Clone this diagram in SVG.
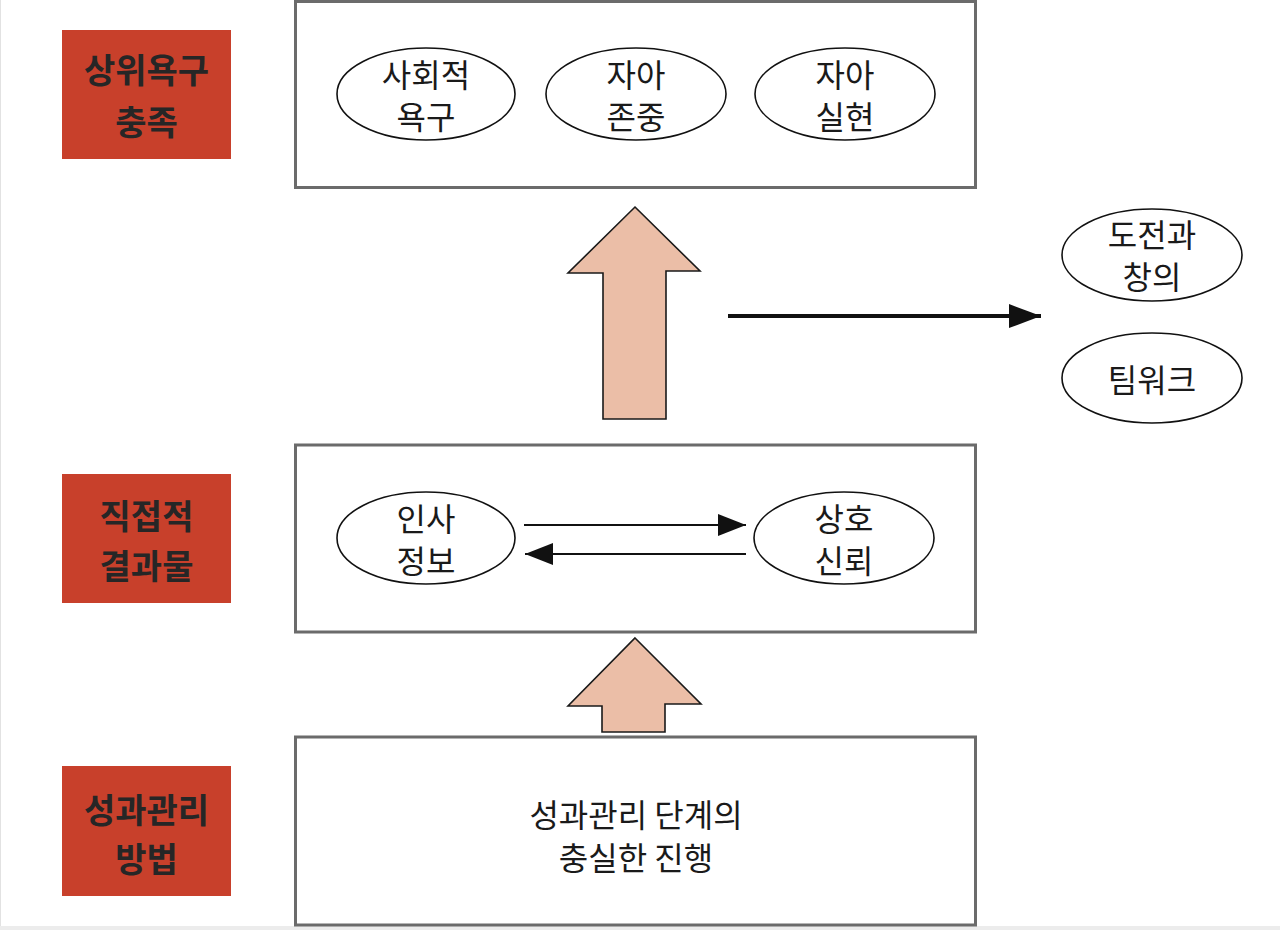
<svg xmlns="http://www.w3.org/2000/svg" width="1280" height="930" viewBox="0 0 1280 930">
<defs>
<style>
.lab{fill:#c8402b;}
.labt{font-family:"Noto Sans CJK KR","Noto Sans",sans-serif;font-size:34px;font-weight:bold;fill:#262626;text-anchor:middle;dominant-baseline:central;}
.box{fill:#fff;stroke:#6b6b6b;stroke-width:3;}
.ell{fill:#fff;stroke:#111;stroke-width:1.6;}
.t{font-family:"Noto Sans CJK KR","Noto Sans",sans-serif;font-size:32px;fill:#1a1a1a;text-anchor:middle;dominant-baseline:central;}
.big{fill:#ebbea7;stroke:#1a1a1a;stroke-width:1.6;stroke-linejoin:miter;}
.thin{stroke:#111;stroke-width:2;fill:none;}
.thick{stroke:#111;stroke-width:4;fill:none;}
</style>
<marker id="ah" viewBox="0 0 10 10" refX="10" refY="5" markerWidth="28" markerHeight="22" markerUnits="userSpaceOnUse" orient="auto" preserveAspectRatio="none">
<path d="M0,0 L10,5 L0,10 z" fill="#111"/>
</marker>
<marker id="ahb" viewBox="0 0 10 10" refX="10" refY="5" markerWidth="32" markerHeight="24" markerUnits="userSpaceOnUse" orient="auto" preserveAspectRatio="none">
<path d="M0,0 L10,5 L0,10 z" fill="#111"/>
</marker>
</defs>
<rect width="1280" height="930" fill="#fff"/>
<rect x="0" y="926" width="1280" height="4" fill="#ececec"/>
<line x1="0.5" y1="0" x2="0.5" y2="926" stroke="#e2e2e2" stroke-width="1"/>

<g id="label-top">
<rect class="lab" x="62" y="30" width="169" height="129"/>
<text class="labt" x="146.5" y="68">상위욕구</text>
<text class="labt" x="146.5" y="120">충족</text>
</g>
<g id="label-mid">
<rect class="lab" x="62" y="474" width="169" height="129"/>
<text class="labt" x="146.5" y="514">직접적</text>
<text class="labt" x="146.5" y="564">결과물</text>
</g>
<g id="label-bot">
<rect class="lab" x="62" y="766" width="169" height="130"/>
<text class="labt" x="146.5" y="808">성과관리</text>
<text class="labt" x="146.5" y="857">방법</text>
</g>

<g id="box-top">
<rect class="box" x="295.5" y="1.5" width="680" height="186"/>
</g>
<g id="box-mid">
<rect class="box" x="295.5" y="445" width="680" height="187"/>
</g>
<g id="box-bot">
<rect class="box" x="295.5" y="737" width="680" height="188"/>
<text class="t" x="636" y="813">성과관리 단계의</text>
<text class="t" x="636" y="856">충실한 진행</text>
</g>

<g id="node-social">
<ellipse class="ell" cx="426" cy="94" rx="89" ry="46"/>
<text class="t" x="426" y="73">사회적</text>
<text class="t" x="426" y="115">욕구</text>
</g>
<g id="node-esteem">
<ellipse class="ell" cx="636" cy="94" rx="90" ry="46"/>
<text class="t" x="636" y="73">자아</text>
<text class="t" x="636" y="115">존중</text>
</g>
<g id="node-actual">
<ellipse class="ell" cx="845" cy="94" rx="90" ry="46"/>
<text class="t" x="845" y="73">자아</text>
<text class="t" x="845" y="115">실현</text>
</g>
<g id="node-challenge">
<ellipse class="ell" cx="1152" cy="255" rx="90" ry="46"/>
<text class="t" x="1152" y="233">도전과</text>
<text class="t" x="1152" y="275">창의</text>
</g>
<g id="node-teamwork">
<ellipse class="ell" cx="1152" cy="378" rx="90" ry="45"/>
<text class="t" x="1152" y="378">팀워크</text>
</g>
<g id="node-hrinfo">
<ellipse class="ell" cx="426" cy="538" rx="89" ry="46"/>
<text class="t" x="426" y="517">인사</text>
<text class="t" x="426" y="559">정보</text>
</g>
<g id="node-trust">
<ellipse class="ell" cx="844" cy="538" rx="90" ry="46"/>
<text class="t" x="844" y="517">상호</text>
<text class="t" x="844" y="559">신뢰</text>
</g>

<g id="connectors">
<polygon class="big" points="635,207 700,271 666,271 666,419 603,419 603,273 568,273"/>
<polygon class="big" points="635,638 701,704 665,704 665,732 602,732 602,706 568,706"/>
<line class="thick" x1="728" y1="316" x2="1041" y2="316" marker-end="url(#ahb)"/>
<line class="thin" x1="524" y1="525" x2="746" y2="525" marker-end="url(#ah)"/>
<line class="thin" x1="746" y1="554" x2="525" y2="554" marker-end="url(#ah)"/>
</g>
</svg>
